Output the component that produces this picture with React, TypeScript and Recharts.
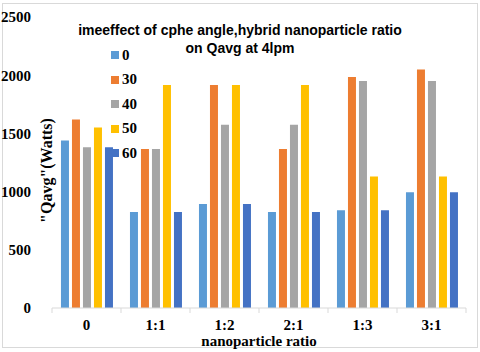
import React from "react";
import { BarChart, Bar, XAxis, YAxis } from "recharts";

const categories = ["0", "1:1", "1:2", "2:1", "1:3", "3:1"];
const angle0 = [1440, 825, 893, 825, 840, 995];
const angle30 = [1620, 1365, 1915, 1365, 1985, 2050];
const angle40 = [1380, 1365, 1575, 1575, 1950, 1950];
const angle50 = [1550, 1915, 1915, 1915, 1130, 1130];
const angle60 = [1380, 825, 893, 825, 840, 995];
const yTicks = [0, 500, 1000, 1500, 2000, 2500];

const seriesNames = ["0", "30", "40", "50", "60"];
const seriesColors = ["#5B9BD5", "#ED7D31", "#A5A5A5", "#FFC000", "#4472C4"];
const seriesValues = [angle0, angle30, angle40, angle50, angle60];

const data = categories.map((c, i) => {
  const row: Record<string, string | number> = { cat: c };
  seriesNames.forEach((s, k) => {
    row["s" + s] = seriesValues[k][i];
  });
  return row;
});

const W = 480;
const H = 352;
const margin = { top: 17, right: 14, bottom: 0, left: 0 };
const yAxisWidth = 52;
const xAxisHeight = 44;
const plotW = W - margin.left - margin.right - yAxisWidth;
const band = plotW / categories.length;

const serif = "'Liberation Serif', 'Times New Roman', serif";
const sans = "'Liberation Sans', Arial, sans-serif";

const XTick = (props: any) => {
  const { x, y, payload, index } = props;
  const left = x - band / 2;
  return (
    <g>
      <line x1={left} y1={y - 8} x2={left} y2={y - 3} stroke="#d9d9d9" />
      {index === categories.length - 1 && (
        <line x1={left + band} y1={y - 8} x2={left + band} y2={y - 3} stroke="#d9d9d9" />
      )}
      <text
        x={x}
        y={y + 14}
        textAnchor="middle"
        fontFamily={serif}
        fontWeight="bold"
        fontSize={15}
        fill="#000"
      >
        {payload.value}
      </text>
    </g>
  );
};

const LegendBox = () => (
  <div
    style={{
      position: "absolute",
      left: 111,
      top: 43,
      display: "flex",
      flexDirection: "column",
    }}
  >
    {seriesNames.map((n, i) => (
      <div key={n} style={{ display: "flex", alignItems: "center", height: 24.5 }}>
        <span
          style={{
            display: "inline-block",
            width: 8,
            height: 8,
            background: seriesColors[i],
            marginRight: 3,
          }}
        />
        <span
          style={{
            fontFamily: serif,
            fontWeight: "bold",
            fontSize: 15,
            color: "#000",
          }}
        >
          {n}
        </span>
      </div>
    ))}
  </div>
);

export default function App() {
  return (
    <div
      style={{
        position: "absolute",
        left: 0,
        top: 0,
        width: W,
        height: H,
        background: "#fff",
      }}
    >
      <div
        style={{
          position: "absolute",
          left: 2,
          top: 3,
          width: 474,
          height: 343,
          border: "1px solid #d9d9d9",
        }}
      />
      <BarChart
        width={W}
        height={H}
        data={data}
        margin={margin}
        barCategoryGap="13%"
        barGap={3}
      >
        <XAxis
          dataKey="cat"
          axisLine={{ stroke: "#d9d9d9" }}
          tickLine={false}
          tick={<XTick />}
          interval={0}
          height={xAxisHeight}
          label={{
            value: "nanoparticle ratio",
            position: "insideBottom",
            offset: 6,
            style: {
              fontFamily: serif,
              fontWeight: "bold",
              fontSize: 15,
              fill: "#000",
            },
          }}
        />
        <YAxis
          width={yAxisWidth}
          domain={[0, 2500]}
          ticks={yTicks}
          axisLine={false}
          tickLine={false}
          tick={{
            fontFamily: serif,
            fontWeight: "bold",
            fontSize: 15,
            fill: "#000",
          }}
          tickMargin={15}
          label={{
            value: '"Qavg"(Watts)',
            angle: -90,
            position: "center",
            dx: 20,
            dy: 8,
            style: {
              fontFamily: serif,
              fontWeight: "bold",
              fontSize: 16,
              fill: "#000",
            },
          }}
        />
        {seriesNames.map((n, i) => (
          <Bar
            key={n}
            dataKey={"s" + n}
            name={n}
            fill={seriesColors[i]}
            isAnimationActive={false}
          />
        ))}
      </BarChart>
      <div
        style={{
          position: "absolute",
          left: 0,
          top: 21,
          width: W,
          textAlign: "center",
          fontFamily: sans,
          fontWeight: "bold",
          fontSize: 14,
          lineHeight: "18px",
          color: "#000",
        }}
      >
        imeeffect of cphe angle,hybrid nanoparticle ratio
        <br />
        on Qavg at 4lpm
      </div>
      <LegendBox />
    </div>
  );
}
